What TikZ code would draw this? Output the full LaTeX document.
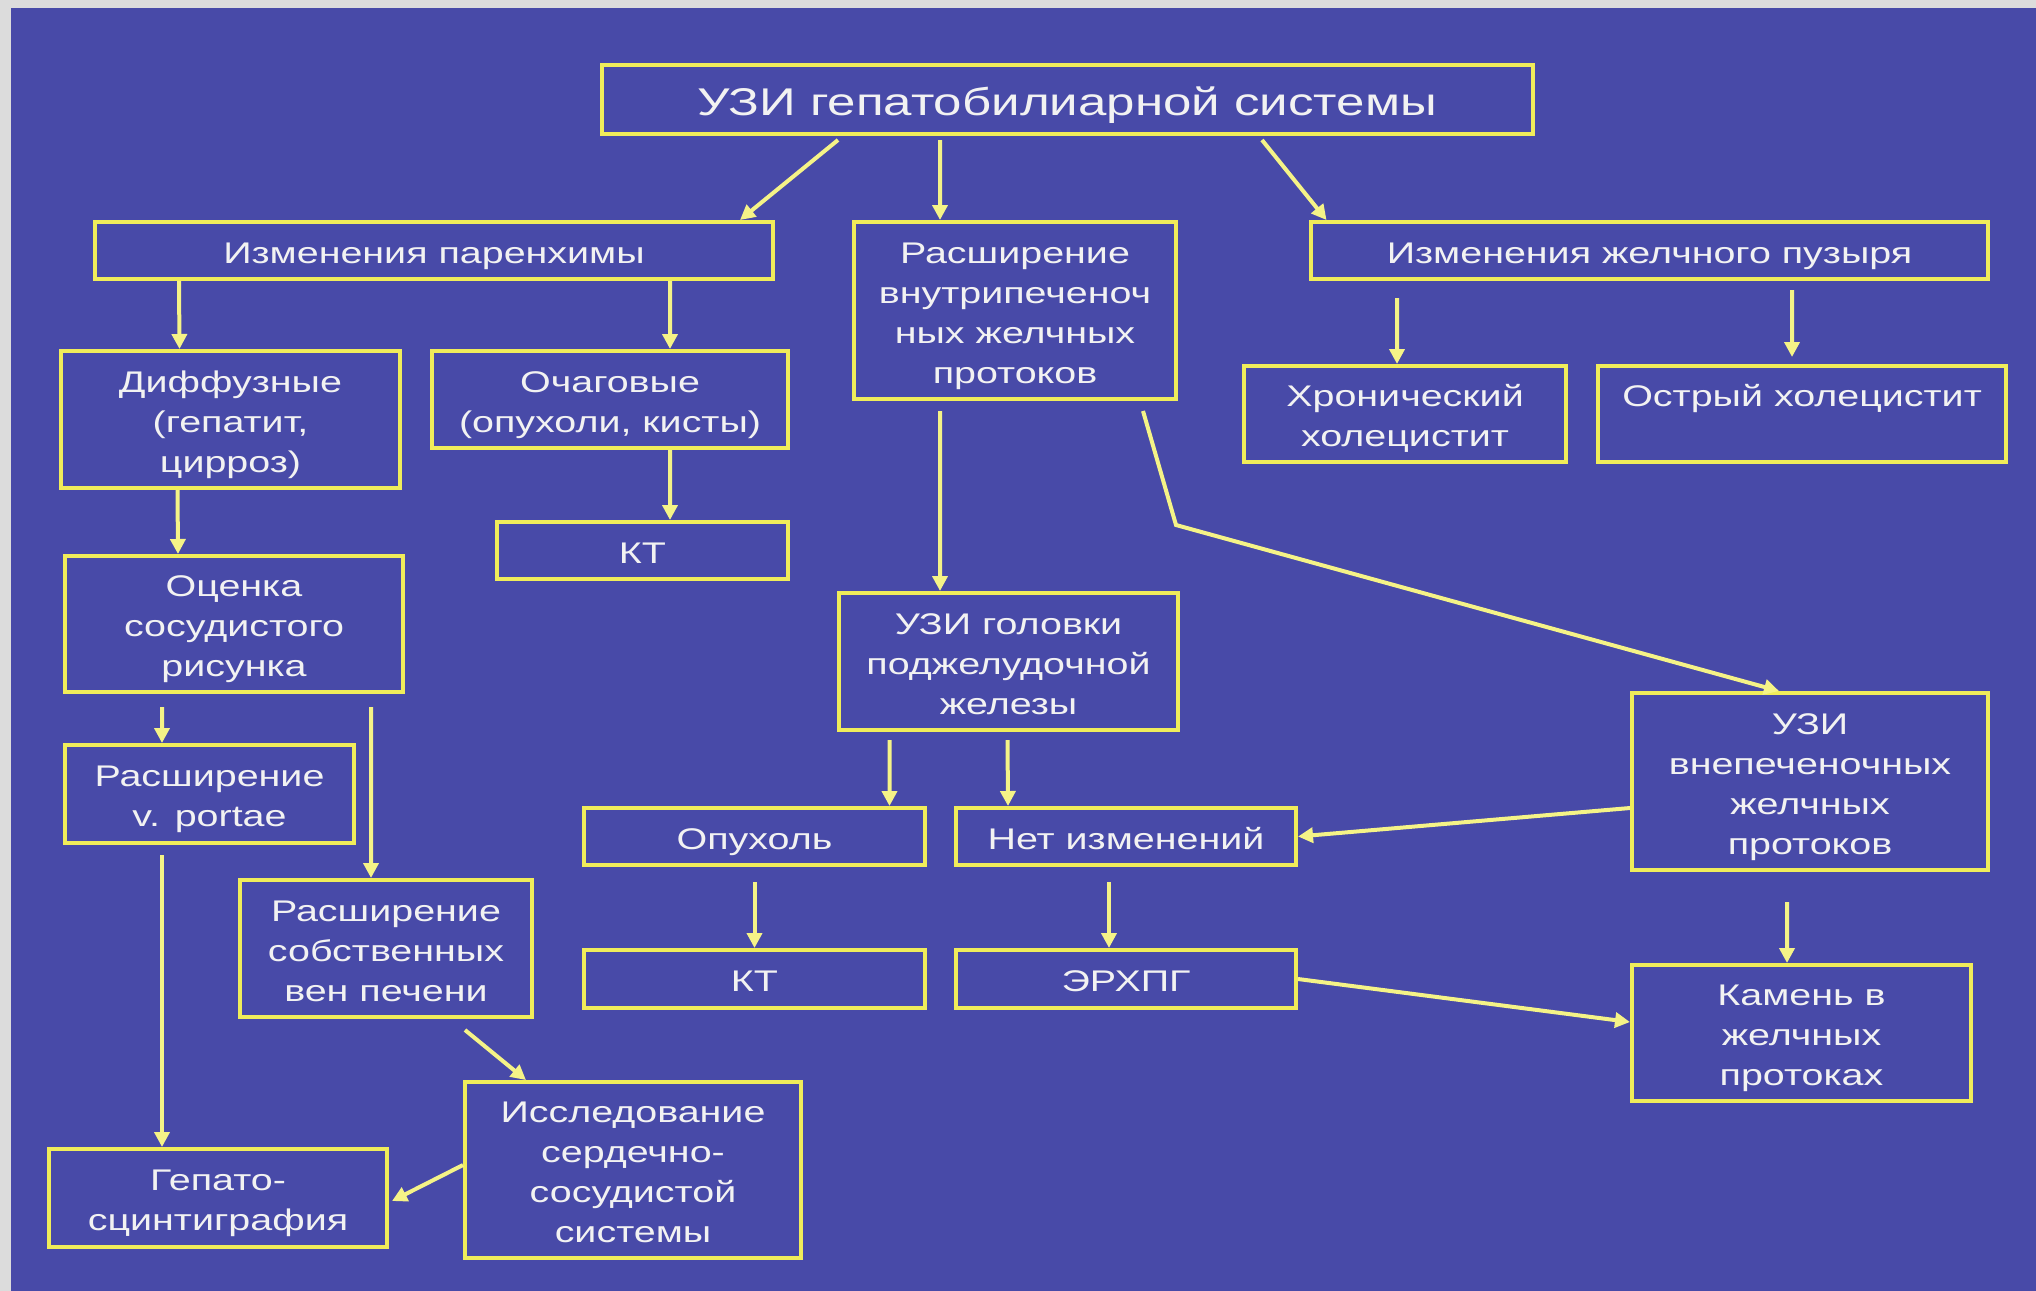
\documentclass[tikz,border=0pt]{standalone}
\usepackage{fontspec}
\setmainfont{Liberation Sans}[FakeStretch=1.32]
\usetikzlibrary{arrows.meta}
\definecolor{slidebg}{RGB}{72,74,168}
\definecolor{slideframe}{RGB}{220,220,220}
\definecolor{boxline}{RGB}{240,236,90}
\definecolor{arrline}{RGB}{245,243,135}
\definecolor{boxtext}{RGB}{242,242,242}
\newsavebox\boxtxt
\newcommand\boxfix{\ht\boxtxt=\dimexpr\dimexpr\baselineskip\relax*\numexpr\dimexpr\ht\boxtxt-0.5\baselineskip\relax/\dimexpr\baselineskip\relax\relax+0.82\baselineskip\relax
	\dp\boxtxt=0.18\baselineskip\box\boxtxt}
\begin{document}
\begin{tikzpicture}[
	box/.style={draw=boxline,line width=0.04cm,text=boxtext,align=center,inner sep=0pt,font=\fontsize{8.5}{11.4}\selectfont,
		execute at begin node={\setbox\boxtxt=\hbox\bgroup},execute at end node={\egroup\boxfix}},
	arr/.style={draw=arrline,line width=0.04cm,-{Triangle[length=0.15cm,width=0.15cm]}}]
			\useasboundingbox (0,0) rectangle (20.36,-12.90);
			\fill[slideframe] (-0.05,0.05) rectangle (20.41,-12.95);
			\fill[slidebg] (0.11,-0.08) rectangle (20.41,-12.95);
			\node[box,minimum width=9.31cm,minimum height=0.69cm,font=\fontsize{11}{14}\selectfont] (title) at (10.67,-0.995) {УЗИ гепатобилиарной системы};
			\node[box,minimum width=6.78cm,minimum height=0.57cm] (paren) at (4.34,-2.505) {Изменения паренхимы};
			\node[box,minimum width=3.22cm,minimum height=1.77cm] (intra) at (10.15,-3.105) {Расширение\\внутрипеченоч\\ных желчных\\протоков};
			\node[box,minimum width=6.77cm,minimum height=0.57cm] (gall) at (16.495,-2.505) {Изменения желчного пузыря};
			\node[box,minimum width=3.39cm,minimum height=1.37cm] (diff) at (2.305,-4.195) {Диффузные\\(гепатит,\\цирроз)};
			\node[box,minimum width=3.56cm,minimum height=0.97cm] (focal) at (6.10,-3.995) {Очаговые\\(опухоли, кисты)};
			\node[box,minimum width=2.91cm,minimum height=0.57cm] (ct1) at (6.425,-5.505) {КТ};
			\node[box,minimum width=3.38cm,minimum height=1.36cm] (vasc) at (2.34,-6.24) {Оценка\\сосудистого\\рисунка};
			\node[box,minimum width=2.89cm,minimum height=0.98cm] (portae) at (2.095,-7.94) {Расширение\\v. portae};
			\node[box,minimum width=2.92cm,minimum height=1.37cm] (veins) at (3.86,-9.485) {Расширение\\собственных\\вен печени};
			\node[box,minimum width=3.38cm,minimum height=0.98cm] (scint) at (2.18,-11.98) {Гепато-\\сцинтиграфия};
			\node[box,minimum width=3.36cm,minimum height=1.76cm] (cardio) at (6.33,-11.70) {Исследование\\сердечно-\\сосудистой\\системы};
			\node[box,minimum width=3.39cm,minimum height=1.37cm] (panc) at (10.085,-6.615) {УЗИ головки\\поджелудочной\\железы};
			\node[box,minimum width=3.41cm,minimum height=0.57cm] (tumor) at (7.545,-8.365) {Опухоль};
			\node[box,minimum width=3.40cm,minimum height=0.57cm] (nochange) at (11.26,-8.365) {Нет изменений};
			\node[box,minimum width=3.41cm,minimum height=0.58cm] (ct2) at (7.545,-9.79) {КТ};
			\node[box,minimum width=3.40cm,minimum height=0.58cm] (ercp) at (11.26,-9.79) {ЭРХПГ};
			\node[box,minimum width=3.22cm,minimum height=0.96cm] (chron) at (14.05,-4.14) {Хронический\\холецистит};
			\node[box,minimum width=4.08cm,minimum height=0.96cm] (acute) at (18.02,-4.14) {Острый холецистит\\\phantom{х}};
			\node[box,minimum width=3.56cm,minimum height=1.77cm] (extra) at (18.10,-7.815) {УЗИ\\внепеченочных\\желчных\\протоков};
			\node[box,minimum width=3.39cm,minimum height=1.36cm] (stone) at (18.015,-10.33) {Камень в\\желчных\\протоках};
			\draw[arr] ([xshift=-2.29cm,yshift=-0.04cm]title.south) -- ([xshift=3.06cm]paren.north);
			\draw[arr] ([xshift=-1.27cm,yshift=-0.04cm]title.south) -- ([xshift=-0.75cm]intra.north);
			\draw[arr] ([xshift=1.95cm,yshift=-0.04cm]title.south) -- ([xshift=-3.23cm]gall.north);
			\draw[arr] ([xshift=-2.55cm]paren.south) -- ([xshift=-0.51cm]diff.north);
			\draw[arr] ([xshift=2.36cm]paren.south) -- ([xshift=0.60cm]focal.north);
			\draw[arr] ([xshift=-0.53cm]diff.south) -- ([xshift=-0.56cm]vasc.north);
			\draw[arr] ([xshift=0.60cm]focal.south) -- ([xshift=0.275cm]ct1.north);
			\draw[arr] ([xshift=-0.72cm,yshift=-0.13cm]vasc.south) -- ([xshift=-0.475cm]portae.north);
			\draw[arr] ([xshift=1.37cm,yshift=-0.13cm]vasc.south) -- ([xshift=-0.15cm]veins.north);
			\draw[arr] ([xshift=-0.475cm,yshift=-0.10cm]portae.south) -- ([xshift=-0.56cm]scint.north);
			\draw[arr] ([xshift=0.79cm,yshift=-0.11cm]veins.south) -- ([xshift=-1.07cm]cardio.north);
			\draw[arr] ([yshift=0.05cm]cardio.west) -- ([xshift=0.03cm,yshift=-0.03cm]scint.east);
			\draw[arr] ([xshift=-0.75cm,yshift=-0.10cm]intra.south) -- ([xshift=-0.685cm]panc.north);
			\draw[arr] ([xshift=1.28cm,yshift=-0.10cm]intra.south) -- ++(0.33,-1.14) -- ([xshift=-0.31cm]extra.north);
			\draw[arr] ([xshift=-2.525cm,yshift=-0.17cm]gall.south) -- ([xshift=-0.08cm]chron.north);
			\draw[arr] ([xshift=1.425cm,yshift=-0.09cm]gall.south) -- ([xshift=-0.10cm,yshift=0.07cm]acute.north);
			\draw[arr] ([xshift=-1.19cm,yshift=-0.08cm]panc.south) -- ([xshift=1.35cm]tumor.north);
			\draw[arr] ([xshift=-0.01cm,yshift=-0.08cm]panc.south) -- ([xshift=-1.18cm]nochange.north);
			\draw[arr] ([yshift=-0.15cm]tumor.south) -- (ct2.north);
			\draw[arr] ([xshift=-0.17cm,yshift=-0.15cm]nochange.south) -- ([xshift=-0.17cm]ercp.north);
			\draw[arr] ([yshift=-0.265cm]extra.west) -- (nochange.east);
			\draw[arr] ([xshift=-0.23cm,yshift=-0.30cm]extra.south) -- ([xshift=-0.145cm]stone.north);
			\draw[arr] (ercp.east) -- ([yshift=0.11cm]stone.west);
\end{tikzpicture}
\end{document}
